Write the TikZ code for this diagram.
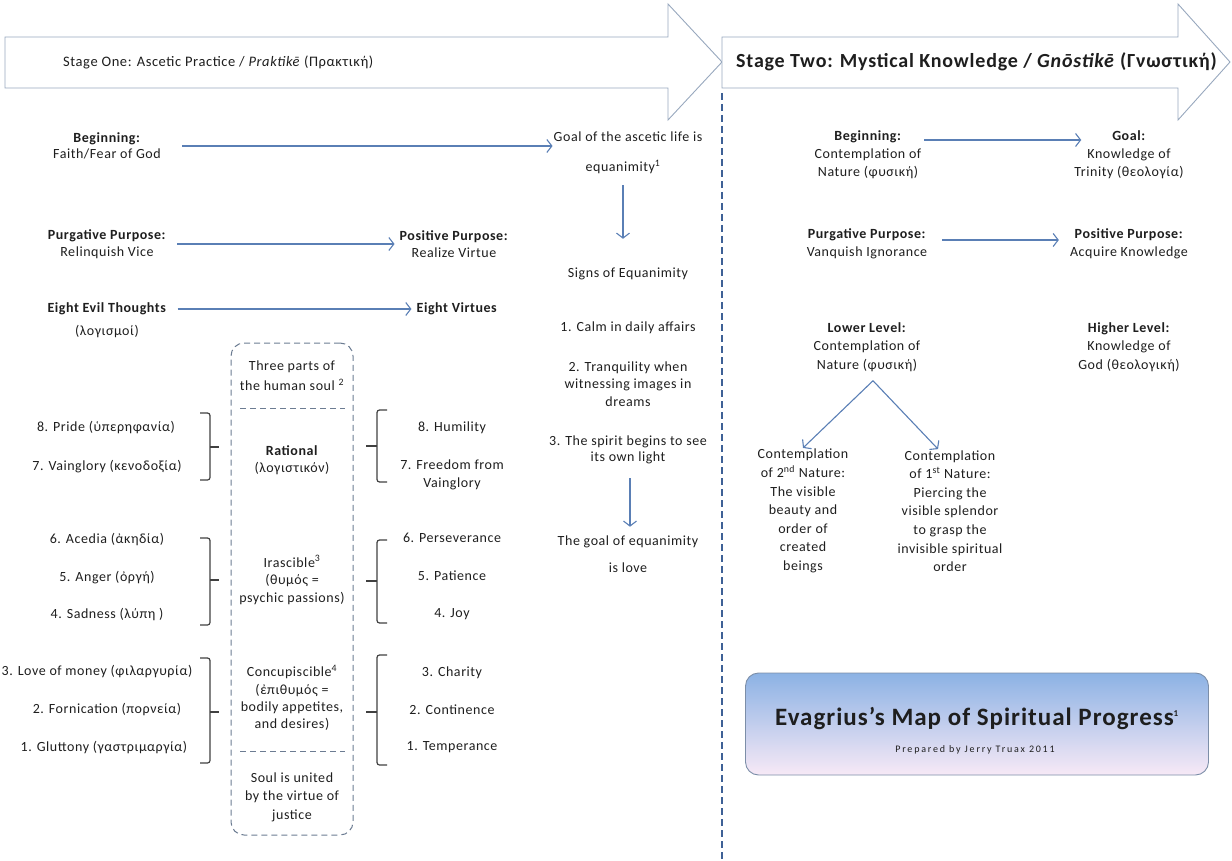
\documentclass[tikz,border=0pt]{standalone}
\usepackage{fontspec}
\setmainfont{Carlito}[LetterSpace=4]
\usetikzlibrary{arrows.meta}
\definecolor{ink}{HTML}{1E1E1E}
\definecolor{conn}{HTML}{5A7FB5}
\definecolor{blockline}{HTML}{98A8BE}
\definecolor{vline}{HTML}{3E6196}
\definecolor{soulline}{HTML}{6C7C92}
\definecolor{tboxtop}{HTML}{8CB2E4}
\definecolor{tboxbot}{HTML}{F7E9F6}
\definecolor{tboxline}{HTML}{7C8EA8}
\begin{document}
\begin{tikzpicture}[x=1pt,y=-1pt,
  txt/.style={font=\fontsize{14}{17.5}\selectfont, align=center, inner sep=1pt, text=ink},
  arr/.style={draw=conn, line width=1.1pt, -{Straight Barb[length=5pt,width=13pt,line width=1.1pt]}},
  block/.style={draw=blockline, line width=0.9pt, fill=white},
  bracket/.style={draw=ink!85, line width=1.2pt, rounded corners=2.5pt},
  sdash/.style={draw=soulline, line width=1pt, dash pattern=on 6pt off 4pt},
  soulbox/.style={sdash, rounded corners=13pt, minimum width=122pt, minimum height=492pt, inner sep=0pt},
  titlebox/.style={draw=tboxline, line width=0.9pt, rounded corners=13pt, top color=tboxtop, bottom color=tboxbot, minimum width=463pt, minimum height=102pt, inner sep=0pt}
]
\useasboundingbox (0,0) rectangle (1232,861);

% ---- block arrows ----
\draw[block] (5,37) -- (668,37) -- (668,4) -- (722,62) -- (668,120) -- (668,88) -- (5,88) -- cycle;
\draw[block] (722,37) -- (1178,37) -- (1178,4) -- (1230,62) -- (1178,120) -- (1178,88) -- (722,88) -- cycle;
\node[txt, anchor=west, font=\fontsize{14.5}{17}\selectfont] (stage1) at (62,62) {Stage One: Ascetic Practice / \textit{Praktikē} (Πρακτική)};
\node[txt, anchor=west, font=\fontsize{20}{23}\selectfont\bfseries] (stage2) at (735,62) {Stage Two: Mystical Knowledge / \textit{Gnōstikē} (Γνωστική)};

% ---- vertical divider ----
\draw[draw=vline, line width=1.3pt, dash pattern=on 7pt off 4pt] (722,93) -- (722,861);

% ---- stage one, top ----
\node[txt, font=\fontsize{14}{16}\selectfont] (beg) at (107,146) {\textbf{Beginning:}\\Faith/Fear of God};
\node[txt] (goal1) at (628,137) {Goal of the ascetic life is};
\node[txt] (goal2) at (623,167) {equanimity\textsuperscript{1}};
\node[txt] (purg) at (107,244) {\textbf{Purgative Purpose:}\\Relinquish Vice};
\node[txt] (posp) at (454,244) {\textbf{Positive Purpose:}\\Realize Virtue};
\node[txt] (evil) at (107,320) {\textbf{Eight Evil Thoughts}\\[5pt](λογισμοί)};
\node[txt] (virt) at (457,309) {\textbf{Eight Virtues}};

\draw[arr, shorten <=20pt] (beg.east) -- (beg.east -| goal1.west);
\draw[arr, shorten <=10pt, shorten >=4pt] (purg.east) -- (purg.east -| posp.west);
\draw[arr, shorten <=10pt, shorten >=4pt] (virt.west -| evil.east) -- (virt.west);

% ---- signs of equanimity ----
\node[txt] (signs) at (628,274) {Signs of Equanimity};
\node[txt] (s1) at (628,328) {1. Calm in daily affairs};
\node[txt] (s2) at (628,384) {2. Tranquility when\\witnessing images in\\dreams};
\node[txt, font=\fontsize{14}{16}\selectfont] (s3) at (628,450) {3. The spirit begins to see\\its own light};
\node[txt] (gl1) at (628,542) {The goal of equanimity};
\node[txt] (gl2) at (628,568) {is love};
\draw[arr, shorten <=10pt, shorten >=28pt] (goal2.south) -- (goal2.south |- signs.north);
\draw[arr, shorten <=13pt, shorten >=8pt] ([xshift=2pt]s3.south) -- ([xshift=2pt]s3.south |- gl1.north);

% ---- soul box ----
\node[soulbox] (soul) at (292,589) {};
\draw[sdash] (240,408) -- (345,408);
\draw[sdash] (240,751) -- (345,751);
\node[txt, font=\fontsize{14}{20}\selectfont] (three) at (292,376) {Three parts of\\the human soul \textsuperscript{2}};
\node[txt, font=\fontsize{14}{17}\selectfont] (rat) at (292,460) {\textbf{Rational}\\(λογιστικόν)};
\node[txt] (ira) at (292,580) {Irascible\textsuperscript{3}\\(θυμός =\\psychic passions)};
\node[txt, font=\fontsize{14}{17.3}\selectfont] (conc) at (292,698) {Concupiscible\textsuperscript{4}\\(ἐπιθυμός =\\bodily appetites,\\and desires)};
\node[txt, font=\fontsize{14}{18.5}\selectfont] (just) at (292,797) {Soul is united\\by the virtue of\\justice};

% ---- vices ----
\node[txt] (v8) at (106,428) {8. Pride (ὑπερηφανία)};
\node[txt] (v7) at (107,467) {7. Vainglory (κενοδοξία)};
\node[txt] (v6) at (107,540) {6. Acedia (ἀκηδία)};
\node[txt] (v5) at (107,578) {5. Anger (ὀργή)};
\node[txt] (v4) at (107,615) {4. Sadness (λύπη )};
\node[txt] (v3) at (97,672) {3. Love of money (φιλαργυρία)};
\node[txt] (v2) at (107,710) {2. Fornication (πορνεία)};
\node[txt] (v1) at (104,748) {1. Gluttony (γαστριμαργία)};

% ---- virtues ----
\node[txt] (g8) at (452,428) {8. Humility};
\node[txt] (g7) at (452,475) {7. Freedom from\\Vainglory};
\node[txt] (g6) at (452,538) {6. Perseverance};
\node[txt] (g5) at (452,576) {5. Patience};
\node[txt] (g4) at (452,614) {4. Joy};
\node[txt] (g3) at (452,673) {3. Charity};
\node[txt] (g2) at (452,710) {2. Continence};
\node[txt] (g1) at (452,747) {1. Temperance};

% ---- brackets ----
\draw[bracket] (200,413) -- (210,413) -- (210,480) -- (200,480);
\draw[bracket] (210,447) -- (219,447);
\draw[bracket] (200,538) -- (210,538) -- (210,625) -- (200,625);
\draw[bracket] (210,580) -- (219,580);
\draw[bracket] (200,658) -- (210,658) -- (210,763) -- (200,763);
\draw[bracket] (210,712) -- (219,712);
\draw[bracket] (387,410) -- (377,410) -- (377,482) -- (387,482);
\draw[bracket] (377,446) -- (366,446);
\draw[bracket] (387,540) -- (377,540) -- (377,623) -- (387,623);
\draw[bracket] (377,581) -- (366,581);
\draw[bracket] (387,655) -- (377,655) -- (377,765) -- (387,765);
\draw[bracket] (377,712) -- (366,712);

% ---- stage two ----
\node[txt, font=\fontsize{14}{18}\selectfont] (rb) at (868,155) {\textbf{Beginning:}\\Contemplation of\\Nature (φυσική)};
\node[txt, font=\fontsize{14}{18}\selectfont] (rg) at (1129,155) {\textbf{Goal:}\\Knowledge of\\Trinity (θεολογία)};
\path ([yshift=15pt]rb.east) coordinate (rbA);
\draw[arr, shorten <=2pt, shorten >=-8pt] (rbA) -- (rbA -| rg.west);

\node[txt] (rp) at (867,244) {\textbf{Purgative Purpose:}\\Vanquish Ignorance};
\node[txt] (rq) at (1129,244) {\textbf{Positive Purpose:}\\Acquire Knowledge};
\path ([yshift=4pt]rp.east) coordinate (rpA);
\draw[arr, shorten <=14pt, shorten >=10pt] (rpA) -- (rpA -| rq.west);

\node[txt, font=\fontsize{14}{18.5}\selectfont] (rl) at (867,347) {\textbf{Lower Level:}\\Contemplation of\\Nature (φυσική)};
\node[txt, font=\fontsize{14}{18.5}\selectfont] (rh) at (1129,347) {\textbf{Higher Level:}\\Knowledge of\\God (θεολογική)};

\node[txt, font=\fontsize{14}{18.6}\selectfont] (n2) at (803,511) {Contemplation\\of 2\textsuperscript{nd} Nature:\\The visible\\beauty and\\order of\\created\\beings};
\node[txt, font=\fontsize{14}{18.6}\selectfont] (n1) at (950,511) {Contemplation\\of 1\textsuperscript{st} Nature:\\Piercing the\\visible splendor\\to grasp the\\invisible spiritual\\order};
\path ([xshift=6pt,yshift=-8pt]rl.south) coordinate (apex);
\draw[arr] (apex) -- (n2.north);
\draw[arr] (apex) -- ([xshift=-12pt]n1.north);

% ---- title box ----
\node[titlebox] (tbox) at (977,724) {};
\node[txt, font=\fontsize{25}{28}\selectfont\bfseries] (ttl) at (977,719) {Evagrius’s Map of Spiritual Progress\textsuperscript{\fontsize{9}{9}\selectfont 1}};
\node[txt, font=\fontsize{10}{11}\selectfont\addfontfeature{LetterSpace=18}] (sub) at (975,750) {Prepared by Jerry Truax 2011};
\end{tikzpicture}
\end{document}
